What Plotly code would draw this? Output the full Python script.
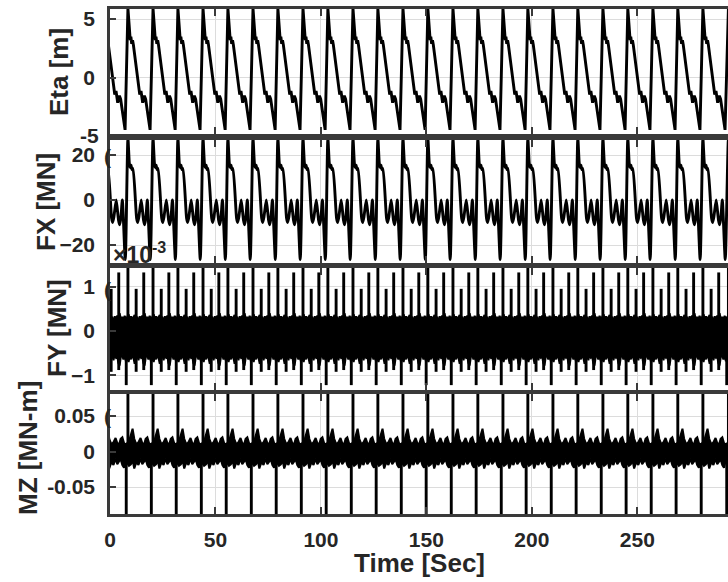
import plotly.graph_objects as go
from plotly.subplots import make_subplots

# ---------------- data ----------------
# times (s) of the wave-cycle crest (Eta peak); the first one lies before t = 0
PEAK_TIMES = [-3.35, 8.5, 20.4, 32.2, 44.1, 55.9, 67.8, 79.6, 91.5, 103.3, 115.2,
              127.0, 138.9, 150.7, 162.6, 174.4, 186.3, 198.1, 210.0, 221.8,
              233.7, 245.5, 257.4, 269.2, 281.1, 293.2]

# one cycle of Eta [m], offsets (s) after the crest
ETA_DT = [0.0, 0.7, 1.1, 1.4, 1.8, 2.2, 2.6, 5.6, 6.2, 7.0, 7.8, 8.4, 10.5]
ETA_V = [5.9, 3.7, 3.2, 3.5, 2.9, 3.2, 2.8, -1.4, -1.1, -2.1, -1.5, -1.8, -4.4]

# one cycle of FX [MN]
FX_DT = [0.0, 0.7, 1.1, 1.5, 1.9, 2.4, 4.1, 4.6, 5.2, 6.3, 7.4, 7.9, 8.5, 9.2, 10.6]
FX_V = [27.5, 16.0, 14.5, 15.5, 13.5, 14.0, -8.0, -10.0, -7.5, 0.0, -9.0, -11.0, -8.0, 0.0, -26.5]

# FY [1e-3 MN]: envelope of the dense oscillation band over one cycle
FY_DT = [0.3, 0.9, 1.5, 2.0, 2.6, 3.2, 3.6, 4.4, 5.0, 5.6, 6.2, 6.8, 7.3, 7.9,
         8.5, 9.1, 9.7, 10.3, 10.9, 11.5]
FY_UP = [0.38, 0.27, 0.33, 0.25, 0.31, 0.36, 0.26, 0.30, 0.24, 0.33, 0.27, 0.35, 0.30,
         0.40, 0.27, 0.32, 0.25, 0.34, 0.28, 0.31]
FY_LO = [-0.70, -0.56, -0.64, -0.52, -0.60, -0.74, -0.58, -0.54, -0.66, -0.52, -0.60,
         -0.57, -0.72, -0.78, -0.58, -0.53, -0.64, -0.56, -0.68, -0.60]
# FY spikes over one cycle: offset, bottom, top
FY_SPK_DT = [-0.8, 0.0, 3.9, 7.5]
FY_SPK_LO = [-1.22, -0.60, -0.92, -0.88]
FY_SPK_HI = [0.30, 1.45, 0.95, 1.32]

# MZ [MN-m]: envelope of the oscillation band over one cycle
MZ_DT = [0.5, 1.4, 2.2, 3.0, 4.0, 5.0, 6.0, 6.8, 7.6, 8.4, 9.2, 10.0, 10.8]
MZ_UP = [0.014, 0.022, 0.032, 0.018, 0.010, 0.013, 0.019, 0.012, 0.009, 0.018, 0.020, 0.012, 0.010]
MZ_LO = [-0.020, -0.018, -0.012, -0.024, -0.015, -0.019, -0.010, -0.018, -0.014, -0.011, -0.019, -0.023, -0.013]
# MZ spikes over one cycle: offset, bottom, top
MZ_SPK_DT = [-0.8, 0.0]
MZ_SPK_LO = [-0.090, -0.010]
MZ_SPK_HI = [0.010, 0.090]

X_TICKS = [0, 50, 100, 150, 200, 250]
ETA_TICKS = [0, 5]
FX_TICKS = [-20, 0, 20]
FY_TICKS = [-1, 0, 1]
MZ_TICKS = [-0.05, 0, 0.05]
MZ_TICKTEXT = ["-0.05", "0", "0.05"]
X_MAX = 293


def cycle_series(dts, vals):
    t, v = [], []
    for p in PEAK_TIMES:
        for dt, val in zip(dts, vals):
            t.append(round(p + dt, 3))
            v.append(val)
    return t, v


def spike_series(dts, los, his):
    xs, ys = [], []
    for p in PEAK_TIMES:
        for dt, lo, hi in zip(dts, los, his):
            xs += [round(p + dt, 3), round(p + dt, 3), None]
            ys += [lo, hi, None]
    return xs, ys


fig = make_subplots(rows=4, cols=1, shared_xaxes=True)
LINE = dict(color="black", width=2.9)

t, v = cycle_series(ETA_DT, ETA_V)
fig.add_trace(go.Scatter(x=t, y=v, mode="lines", line=LINE), row=1, col=1)
t, v = cycle_series(FX_DT, FX_V)
fig.add_trace(go.Scatter(x=t, y=v, mode="lines", line=dict(LINE, shape="spline", smoothing=0.6)),
              row=2, col=1)

t, u = cycle_series(FY_DT, FY_UP)
_, l = cycle_series(FY_DT, FY_LO)
fig.add_trace(go.Scatter(x=t, y=u, mode="lines", line=dict(color="black", width=2)), row=3, col=1)
fig.add_trace(go.Scatter(x=t, y=l, mode="lines", line=dict(color="black", width=2),
                         fill="tonexty", fillcolor="black"), row=3, col=1)
xs, ys = spike_series(FY_SPK_DT, FY_SPK_LO, FY_SPK_HI)
fig.add_trace(go.Scatter(x=xs, y=ys, mode="lines", line=LINE), row=3, col=1)

t, u = cycle_series(MZ_DT, MZ_UP)
_, l = cycle_series(MZ_DT, MZ_LO)
fig.add_trace(go.Scatter(x=t, y=u, mode="lines", line=dict(color="black", width=2)), row=4, col=1)
fig.add_trace(go.Scatter(x=t, y=l, mode="lines", line=dict(color="black", width=2),
                         fill="tonexty", fillcolor="black"), row=4, col=1)
xs, ys = spike_series(MZ_SPK_DT, MZ_SPK_LO, MZ_SPK_HI)
fig.add_trace(go.Scatter(x=xs, y=ys, mode="lines", line=LINE), row=4, col=1)

W, H = 728, 582
FONT = dict(family="Liberation Sans, Arial, sans-serif", size=21, color="#262626", weight="bold")
AX_COL = "#3a3a3a"
GRID = "#dcdcdc"


def py(p):
    return 1 - p / H


x_dom = [110 / W, 1.0]
panels = [(9, 134, [-4.75, 5.85], ETA_TICKS, None),
          (140, 263, [-28.0, 26.7], FX_TICKS, None),
          (268, 390, [-1.33, 1.42], FY_TICKS, None),
          (394, 514, [-0.088, 0.081], MZ_TICKS, MZ_TICKTEXT)]

for i, (top, bot, yr, tv, tt) in enumerate(panels, start=1):
    fig.update_xaxes(row=i, col=1, domain=x_dom, range=[0, X_MAX], tickvals=X_TICKS,
                     showgrid=True, gridcolor=GRID, gridwidth=1.3, zeroline=False,
                     ticks="inside", ticklen=7, tickwidth=1.5, tickcolor=AX_COL,
                     showline=True, linecolor=AX_COL, linewidth=2.6, mirror="ticks",
                     showticklabels=(i == 4), tickfont=FONT, ticklabelstandoff=5,
                     automargin=False)
    ykw = dict(domain=[py(bot), py(top)], range=yr, tickvals=tv,
               showgrid=True, gridcolor=GRID, gridwidth=1.3, zeroline=False,
               ticks="inside", ticklen=6, tickwidth=1.5, tickcolor=AX_COL,
               showline=True, linecolor=AX_COL, linewidth=2.6, mirror=False,
               tickfont=FONT, ticklabelstandoff=8, automargin=False)
    if tt is not None:
        ykw["ticktext"] = tt
    fig.update_yaxes(row=i, col=1, **ykw)

TFONT = dict(family="Liberation Sans, Arial, sans-serif", size=26, color="#262626", weight="bold")
ann = []
for text, xp, yp in [("Eta [m]", 59, 72), ("FX [MN]", 46, 202),
                     ("FY [MN]", 57, 328), ("MZ [MN-m]", 28, 448)]:
    ann.append(dict(text=text, x=xp / W, y=py(yp), xref="paper", yref="paper",
                    textangle=-90, showarrow=False, font=TFONT,
                    xanchor="center", yanchor="middle"))
ann.append(dict(text="Time [Sec]", x=420 / W, y=py(563), xref="paper", yref="paper",
                showarrow=False, font=TFONT, xanchor="center", yanchor="middle"))
ann.append(dict(text="-5", x=101 / W, y=py(135), xref="paper", yref="paper",
                showarrow=False, font=FONT, xanchor="right", yanchor="middle"))
ann.append(dict(text="×10<sup>-3</sup>", x=111 / W, y=py(253), xref="paper", yref="paper",
                showarrow=False, font=dict(FONT, size=23), xanchor="left", yanchor="middle"))
for yp in (157, 289, 416):
    ann.append(dict(text="(", x=102 / W, y=py(yp), xref="paper", yref="paper",
                    showarrow=False, font=FONT, xanchor="left", yanchor="middle"))

fig.update_layout(width=W, height=H, margin=dict(l=0, r=0, t=0, b=0),
                  plot_bgcolor="white", paper_bgcolor="white", showlegend=False,
                  annotations=ann)

fig.write_html("out.html", config={"displayModeBar": False},
               post_script="document.body.style.margin='0';document.body.style.overflow='hidden';")
